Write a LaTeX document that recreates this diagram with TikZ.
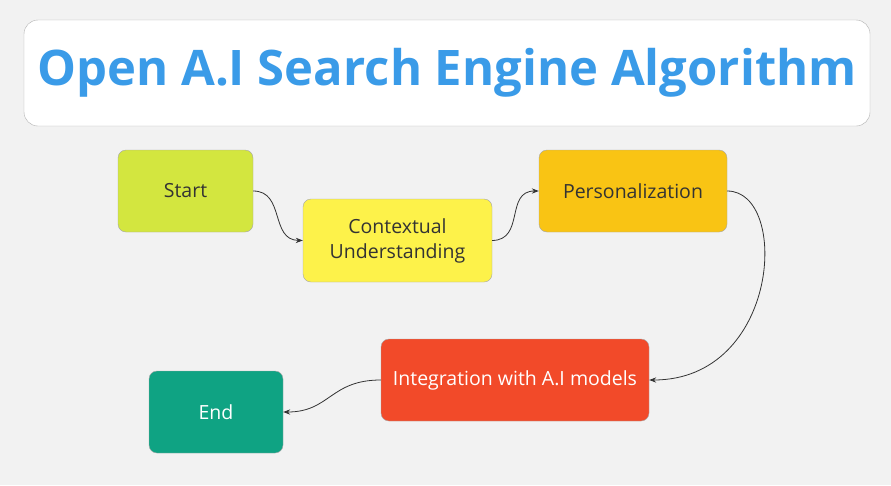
\documentclass[tikz,border=0pt]{standalone}
\usepackage{fontspec}
\setmainfont{Open Sans}
\usetikzlibrary{arrows.meta}
\definecolor{bg}{HTML}{F2F2F2}
\definecolor{ttl}{HTML}{3A9BE8}
\definecolor{cstart}{HTML}{D3E63F}
\definecolor{cctx}{HTML}{FDF24A}
\definecolor{cpers}{HTML}{F9C414}
\definecolor{cint}{HTML}{F24A29}
\definecolor{cend}{HTML}{0FA383}
\tikzset{box/.style={draw=black!35,rounded corners=8pt,align=center,font=\fontsize{19.5}{25}\selectfont,text=black!80},
con/.style={draw=black!80,thick,-{Stealth[length=7pt]}}}
\begin{document}
\begin{tikzpicture}[x=1pt,y=-1pt]
\fill[bg] (0,0) rectangle (891,485);
\useasboundingbox (0,0) rectangle (891,485);
\node[draw=black!30,fill=white,rounded corners=14pt,minimum width=846pt,minimum height=106pt,text=ttl,font=\fontsize{49}{56}\bfseries\selectfont] (title) at (447,73) {Open A.I Search Engine Algorithm};
\node[box,fill=cstart,minimum width=135pt,minimum height=82pt] (s) at (185.5,191) {Start};
\node[box,fill=cctx,minimum width=189pt,minimum height=83pt] (c) at (397.5,240.5) {Contextual\\Understanding};
\node[box,fill=cpers,minimum width=188pt,minimum height=82pt] (p) at (633,191) {Personalization};
\node[box,fill=cint,text=white,minimum width=268pt,minimum height=82pt] (i) at (515,380) {Integration with A.I models};
\node[box,fill=cend,text=white,minimum width=134pt,minimum height=82pt] (e) at (216,412) {End};
\draw[con] (s.east) .. controls (285,191) and (270,240) .. (c.west);
\draw[con] (c.east) .. controls (525,240) and (505,191) .. (p.west);
\draw[con] (p.east) .. controls (790,191) and (780,380) .. (i.east);
\draw[con] (i.west) .. controls (330,380) and (330,412) .. (e.east);
\end{tikzpicture}
\end{document}
